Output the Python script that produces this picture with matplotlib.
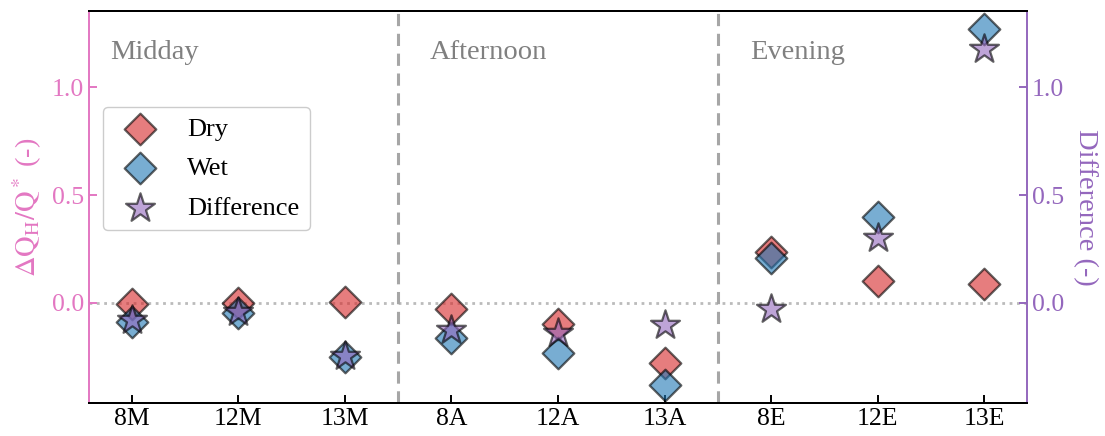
import matplotlib
matplotlib.use("Agg")
import numpy as np
import matplotlib.pyplot as plt

# data
cases = ["8M", "12M", "13M", "8A", "12A", "13A", "8E", "12E", "13E"]
dry = [-0.005, 0.0, 0.003, -0.03, -0.095, -0.28, 0.236, 0.10, 0.09]
wet = [-0.09, -0.046, -0.25, -0.16, -0.23, -0.38, 0.21, 0.40, 1.27]
diff = [-0.08, -0.04, -0.245, -0.125, -0.14, -0.10, -0.03, 0.30, 1.176]
periods = ["Midday", "Afternoon", "Evening"]

PINK = "#e377c2"
PURPLE = "#9467bd"

plt.rcParams.update({
    "font.family": ["Liberation Serif", "DejaVu Serif"],
    "mathtext.fontset": "stix",
    "font.size": 18,
})

fig = plt.figure(figsize=(11.05, 4.36), dpi=100)
ax = fig.add_axes([0.0805, 0.0757, 0.8489, 0.8991])
ax2 = ax.twinx()

x = np.arange(len(cases))
h1 = ax.scatter(x, dry, marker="D", s=260, color="#d62728", alpha=0.6,
                edgecolors="k", linewidths=1.6, label="Dry", zorder=3)
h2 = ax.scatter(x, wet, marker="D", s=260, color="#1f77b4", alpha=0.6,
                edgecolors="k", linewidths=1.6, label="Wet", zorder=3)
h3 = ax2.scatter(x, diff, marker="*", s=480, color=PURPLE, alpha=0.6,
                 edgecolors="k", linewidths=1.6, label="Difference", zorder=3)

ylim = (-0.463, 1.352)
ax.set_ylim(ylim)
ax2.set_ylim(ylim)
ax.set_xlim(-0.4, len(cases) - 0.6)
ax.set_xticks(x)
ax.set_xticklabels(cases)
ax.set_yticks([0.0, 0.5, 1.0])
ax2.set_yticks([0.0, 0.5, 1.0])

# reference lines
ax.axhline(0, color="#bbbbbb", linestyle=":", linewidth=2, zorder=1)
for xv in [2.5, 5.5]:
    ax.axvline(xv, color="#a6a6a6", linestyle="--", linewidth=2.2,
               dashes=(4, 2.5), zorder=1)

for i, p in enumerate(periods):
    ax.text(3 * i - 0.2, 1.16, p, color="gray", fontsize=20.5,
            ha="left", va="center")

ax.set_ylabel(r"$\Delta\mathrm{Q_H/Q^*}$ (-)", color=PINK, fontsize=20.5,
              labelpad=6)
ax2.set_ylabel("Difference (-)", color=PURPLE, fontsize=20.5,
               rotation=270, labelpad=24)

ax.tick_params(axis="both", direction="in", length=6, width=1.4,
               labelsize=18.5)
ax.tick_params(axis="y", colors=PINK, labelcolor=PINK)
ax2.tick_params(axis="y", direction="in", length=6, width=1.4,
                labelsize=18.5, colors=PURPLE, labelcolor=PURPLE)

for sp in ax.spines.values():
    sp.set_linewidth(1.4)
for sp in ax2.spines.values():
    sp.set_linewidth(1.4)
ax.spines["left"].set_color(PINK)
ax.spines["right"].set_visible(False)
ax2.spines["left"].set_visible(False)
ax2.spines["right"].set_color(PURPLE)

leg = ax.legend(handles=[h1, h2, h3], loc="upper left",
                bbox_to_anchor=(0.015, 0.755), borderaxespad=0,
                fontsize=19, labelspacing=0.6, framealpha=1,
                edgecolor="#cccccc")
leg.set_zorder(10)

fig.savefig("out.png", dpi=100)
